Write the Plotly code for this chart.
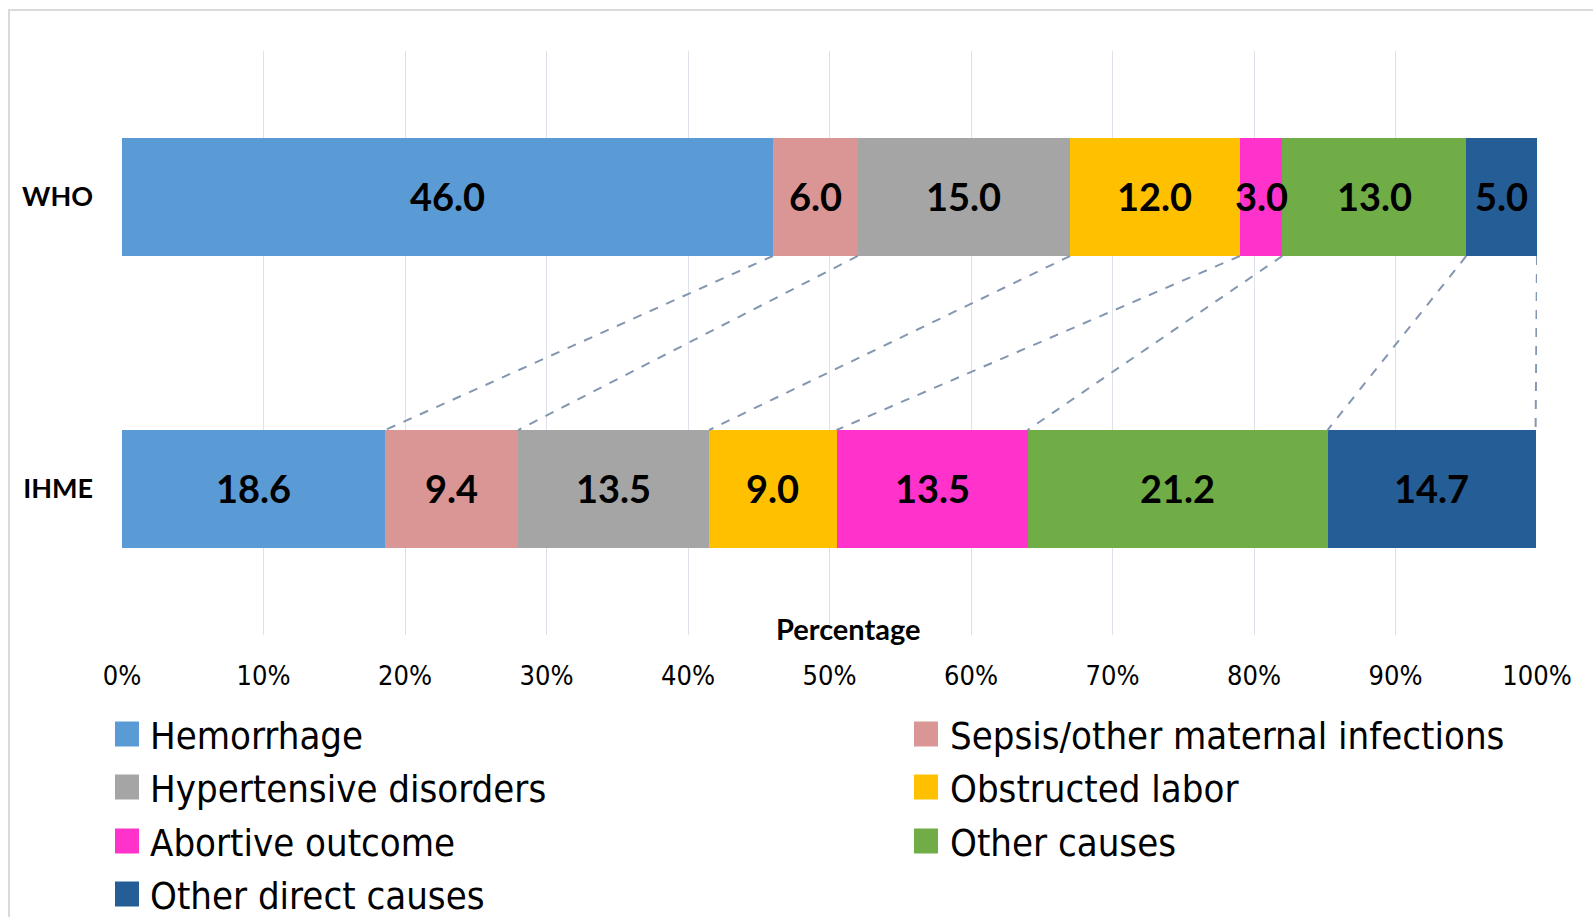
import plotly.graph_objects as go

sources = ["WHO", "IHME"]
causes = ["Hemorrhage", "Sepsis/other maternal infections", "Hypertensive disorders",
          "Obstructed labor", "Abortive outcome", "Other causes", "Other direct causes"]
who_values = [46.0, 6.0, 15.0, 12.0, 3.0, 13.0, 5.0]
ihme_values = [18.6, 9.4, 13.5, 9.0, 13.5, 21.2, 14.7]
colors = ["#5B9BD5", "#D99694", "#A5A5A5", "#FFC000", "#FF33CC", "#70AD47", "#255D97"]
x_ticks = [0, 10, 20, 30, 40, 50, 60, 70, 80, 90, 100]
x_tick_labels = [f"{t}%" for t in x_ticks]

W, H = 1593, 917
L, R, T, B = 122, 56, 51, 282
pw, ph = W - L - R, H - T - B

def px_to_paper_x(px):
    return (px - L) / pw

def px_to_paper_y(py):
    return (H - B - py) / ph

y_pos = {"WHO": 1, "IHME": 0}
bar_w = 0.404

NARROW = "Liberation Sans Narrow, Arial Narrow, DejaVu Sans Condensed, sans-serif"
BOLD = "Lato, Open Sans, sans-serif"

fig = go.Figure()

for i, cause in enumerate(causes):
    fig.add_trace(go.Bar(
        y=[y_pos["WHO"], y_pos["IHME"]],
        x=[who_values[i], ihme_values[i]],
        orientation="h",
        name=cause,
        width=bar_w,
        marker=dict(color=colors[i], line=dict(width=0)),
        showlegend=False,
        hoverinfo="x+name",
    ))

# data labels (annotations at segment centres, computed from the data)
annotations = []
for src, vals in (("WHO", who_values), ("IHME", ihme_values)):
    cum = 0
    for v in vals:
        annotations.append(dict(
            x=cum + v / 2, y=y_pos[src], xref="x", yref="y", text=f"{v:.1f}",
            showarrow=False, xanchor="center", yanchor="middle", yshift=1,
            font=dict(family=BOLD, size=38, color="#000000", weight="bold"),
        ))
        cum += v

# connector dashed lines
cw, ci = 0, 0
for i in range(len(causes)):
    cw += who_values[i]
    ci += ihme_values[i]
    fig.add_trace(go.Scatter(
        x=[min(cw, 100), min(ci, 100)],
        y=[y_pos["WHO"] - bar_w / 2, y_pos["IHME"] + bar_w / 2],
        mode="lines", line=dict(color="#8497B0", width=2, dash="dash"),
        showlegend=False, hoverinfo="skip", cliponaxis=False,
    ))

# legend entries (one legend per entry for exact placement) + larger swatches
legend_cols = [110, 910]
swatch_cols = [127, 926]
row_centers = [734, 787, 841, 894]
shapes = []
for i, cause in enumerate(causes):
    lname = "legend" if i == 0 else f"legend{i + 1}"
    fig.add_trace(go.Scatter(
        x=[None], y=[None], mode="markers", name=cause,
        marker=dict(symbol="square", size=16, color="rgba(0,0,0,0)"),
        legend=lname, showlegend=True,
    ))
    fig.update_layout({lname: dict(
        x=px_to_paper_x(legend_cols[i % 2]), y=px_to_paper_y(row_centers[i // 2]),
        xanchor="left", yanchor="middle", orientation="v",
        font=dict(family=NARROW, size=38, color="#000000"),
        bgcolor="rgba(0,0,0,0)", itemclick=False, itemdoubleclick=False,
    )})
    cx, cy = swatch_cols[i % 2], row_centers[i // 2]
    shapes.append(dict(type="rect", xref="paper", yref="paper",
                       x0=px_to_paper_x(cx - 12), x1=px_to_paper_x(cx + 12),
                       y0=px_to_paper_y(cy + 12.5), y1=px_to_paper_y(cy - 12.5),
                       fillcolor=colors[i], line=dict(width=0), layer="above"))

annotations.append(dict(text="Percentage", xref="paper", yref="paper",
                        x=px_to_paper_x(848), y=px_to_paper_y(628),
                        xanchor="center", yanchor="middle", showarrow=False,
                        font=dict(family=BOLD, size=29, color="#000000", weight="bold")))

shapes.append(dict(type="rect", xref="paper", yref="paper",
                   x0=px_to_paper_x(9), x1=px_to_paper_x(1610),
                   y0=px_to_paper_y(940), y1=px_to_paper_y(10),
                   line=dict(color="#D9D9D9", width=2), fillcolor="rgba(0,0,0,0)", layer="below"))

fig.update_layout(
    width=W, height=H,
    margin=dict(l=L, r=R, t=T, b=B, autoexpand=False),
    paper_bgcolor="white", plot_bgcolor="white",
    barmode="stack",
    xaxis=dict(range=[0, 100], tickvals=x_ticks, ticktext=x_tick_labels,
               showgrid=True, gridcolor="#DDE2EA", gridwidth=1,
               zeroline=False, showline=False, ticks="",
               ticklabelstandoff=22,
               tickfont=dict(family=NARROW, size=27, color="#000000")),
    yaxis=dict(range=[-0.5, 1.5], tickvals=[1, 0], ticktext=sources,
               showgrid=False, zeroline=False, showline=False, ticks="",
               ticklabelstandoff=28,
               tickfont=dict(family=BOLD, size=27, color="#000000", weight="bold")),
    annotations=annotations,
    shapes=shapes,
)

fig.write_html("out.html")
